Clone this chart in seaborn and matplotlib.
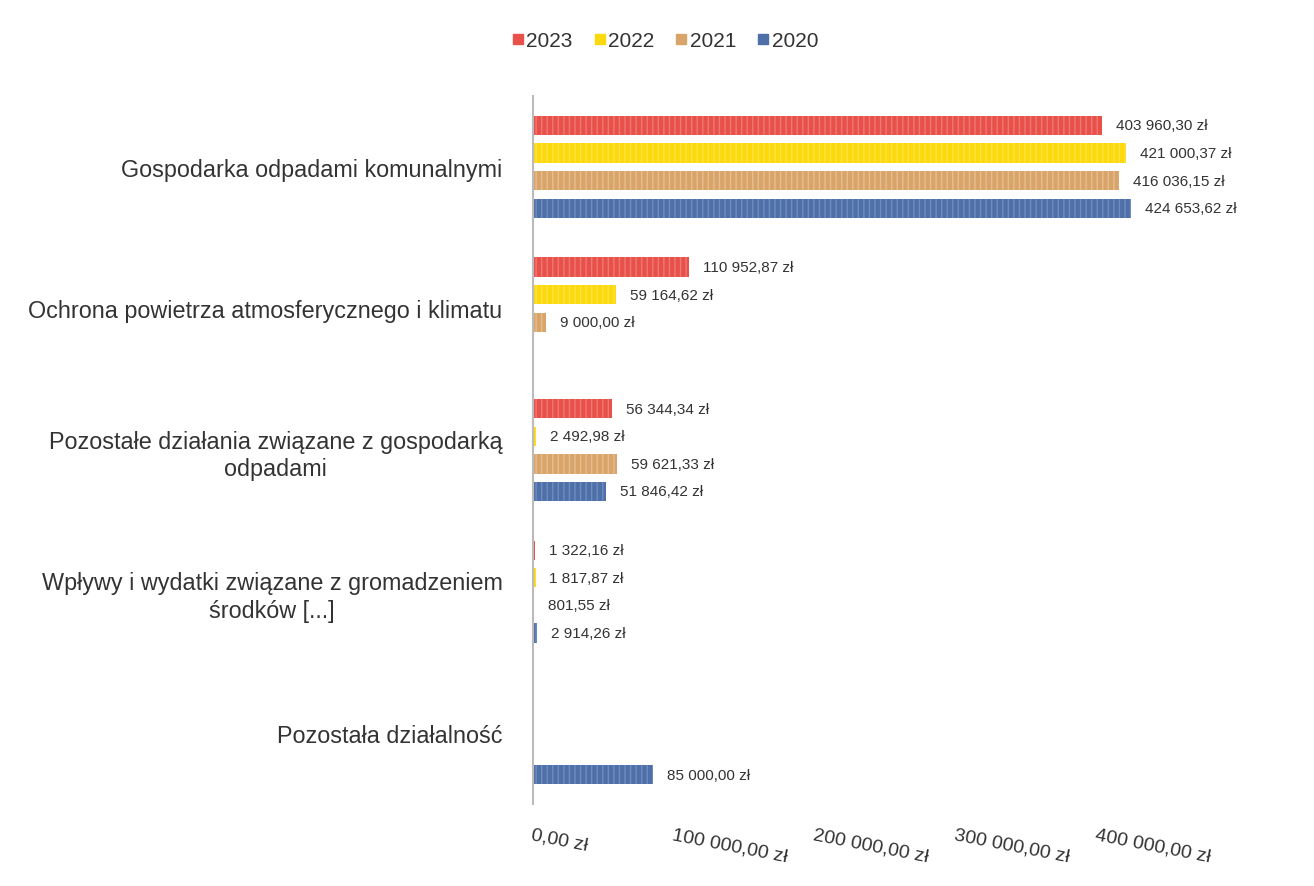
import matplotlib
matplotlib.use("Agg")
import matplotlib.pyplot as plt
from matplotlib.lines import Line2D
import numpy as np
import pandas as pd
import seaborn as sns


categories = [
    "Gospodarka odpadami komunalnymi",
    "Ochrona powietrza atmosferycznego i klimatu",
    "Pozostałe działania związane z gospodarką\nodpadami",
    "Wpływy i wydatki związane z gromadzeniem\nśrodków [...]",
    "Pozostała działalność",
]
years = ["2023", "2022", "2021", "2020"]

values_2023 = [403960.30, 110952.87, 56344.34, 1322.16, np.nan]
values_2022 = [421000.37, 59164.62, 2492.98, 1817.87, np.nan]
values_2021 = [416036.15, 9000.00, 59621.33, 801.55, np.nan]
values_2020 = [424653.62, np.nan, 51846.42, 2914.26, 85000.00]

colors = ["#E8504A", "#FCD80F", "#D9A46A", "#4E6FA8"]
hatch_colors = ["#F07873", "#FFE33A", "#E6BE8E", "#6F8CBF"]


def fmt_zl(v):
    s = f"{v:,.2f}".replace(",", " ").replace(".", ",")
    return f"{s} zł"


rows = []
for year, vals in zip(years, [values_2023, values_2022, values_2021, values_2020]):
    for cat, v in zip(categories, vals):
        rows.append({"kategoria": cat, "rok": year, "kwota": v})
df = pd.DataFrame(rows).dropna()

sns.set_style("white")
plt.rcParams["font.family"] = ["Liberation Sans", "DejaVu Sans"]
plt.rcParams["hatch.linewidth"] = 1.0

fig = plt.figure(figsize=(13.14, 8.87), dpi=100)
ax = fig.add_axes([0.4056, 0.0924, 0.4772, 0.7982])

sns.barplot(
    data=df, y="kategoria", x="kwota", hue="rok",
    order=categories, hue_order=years, palette=colors, saturation=1,
    orient="h", width=0.78, gap=0.3, errorbar=None,
    legend=False, ax=ax,
)

for cont, hc in zip(ax.containers, hatch_colors):
    for bar in cont:
        bar.set_hatch("|||")
        bar.set_edgecolor(hc)
        bar.set_linewidth(0)
    labels = [fmt_zl(b.get_width()) if np.isfinite(b.get_width()) else "" for b in cont]
    ax.bar_label(cont, labels=labels, padding=10, fontsize=11, color="#333333")

ax.set_xlim(0, 445000)
ax.set_ylim(4.5, -0.5)
ax.set_xlabel("")
ax.set_ylabel("")

ticks = [0, 100000, 200000, 300000, 400000]
ax.set_xticks(ticks)
ax.set_xticklabels([fmt_zl(t) for t in ticks], rotation=-11, ha="left",
                   va="top", rotation_mode="anchor", fontsize=14, color="#333333")
ax.tick_params(axis="x", length=0, pad=16)
ax.tick_params(axis="y", length=0, pad=22)
for lab in ax.get_yticklabels():
    lab.set_fontsize(16.8)
    lab.set_color("#333333")
    lab.set_multialignment("center")
    lab.set_linespacing(1.25)

for side in ["top", "right", "bottom"]:
    ax.spines[side].set_visible(False)
ax.spines["left"].set_color("#BBBBBB")
ax.spines["left"].set_linewidth(1.5)

handles = [Line2D([], [], marker="s", linestyle="", markersize=7,
                  markerfacecolor=c, markeredgecolor=c) for c in colors]
fig.legend(handles, years, loc="center", bbox_to_anchor=(0.506, 0.953),
           ncol=4, frameon=False, fontsize=15, handlelength=0.6,
           handletextpad=0.1, columnspacing=1.0, labelcolor="#333333")

fig.savefig("out.png", dpi=100)
